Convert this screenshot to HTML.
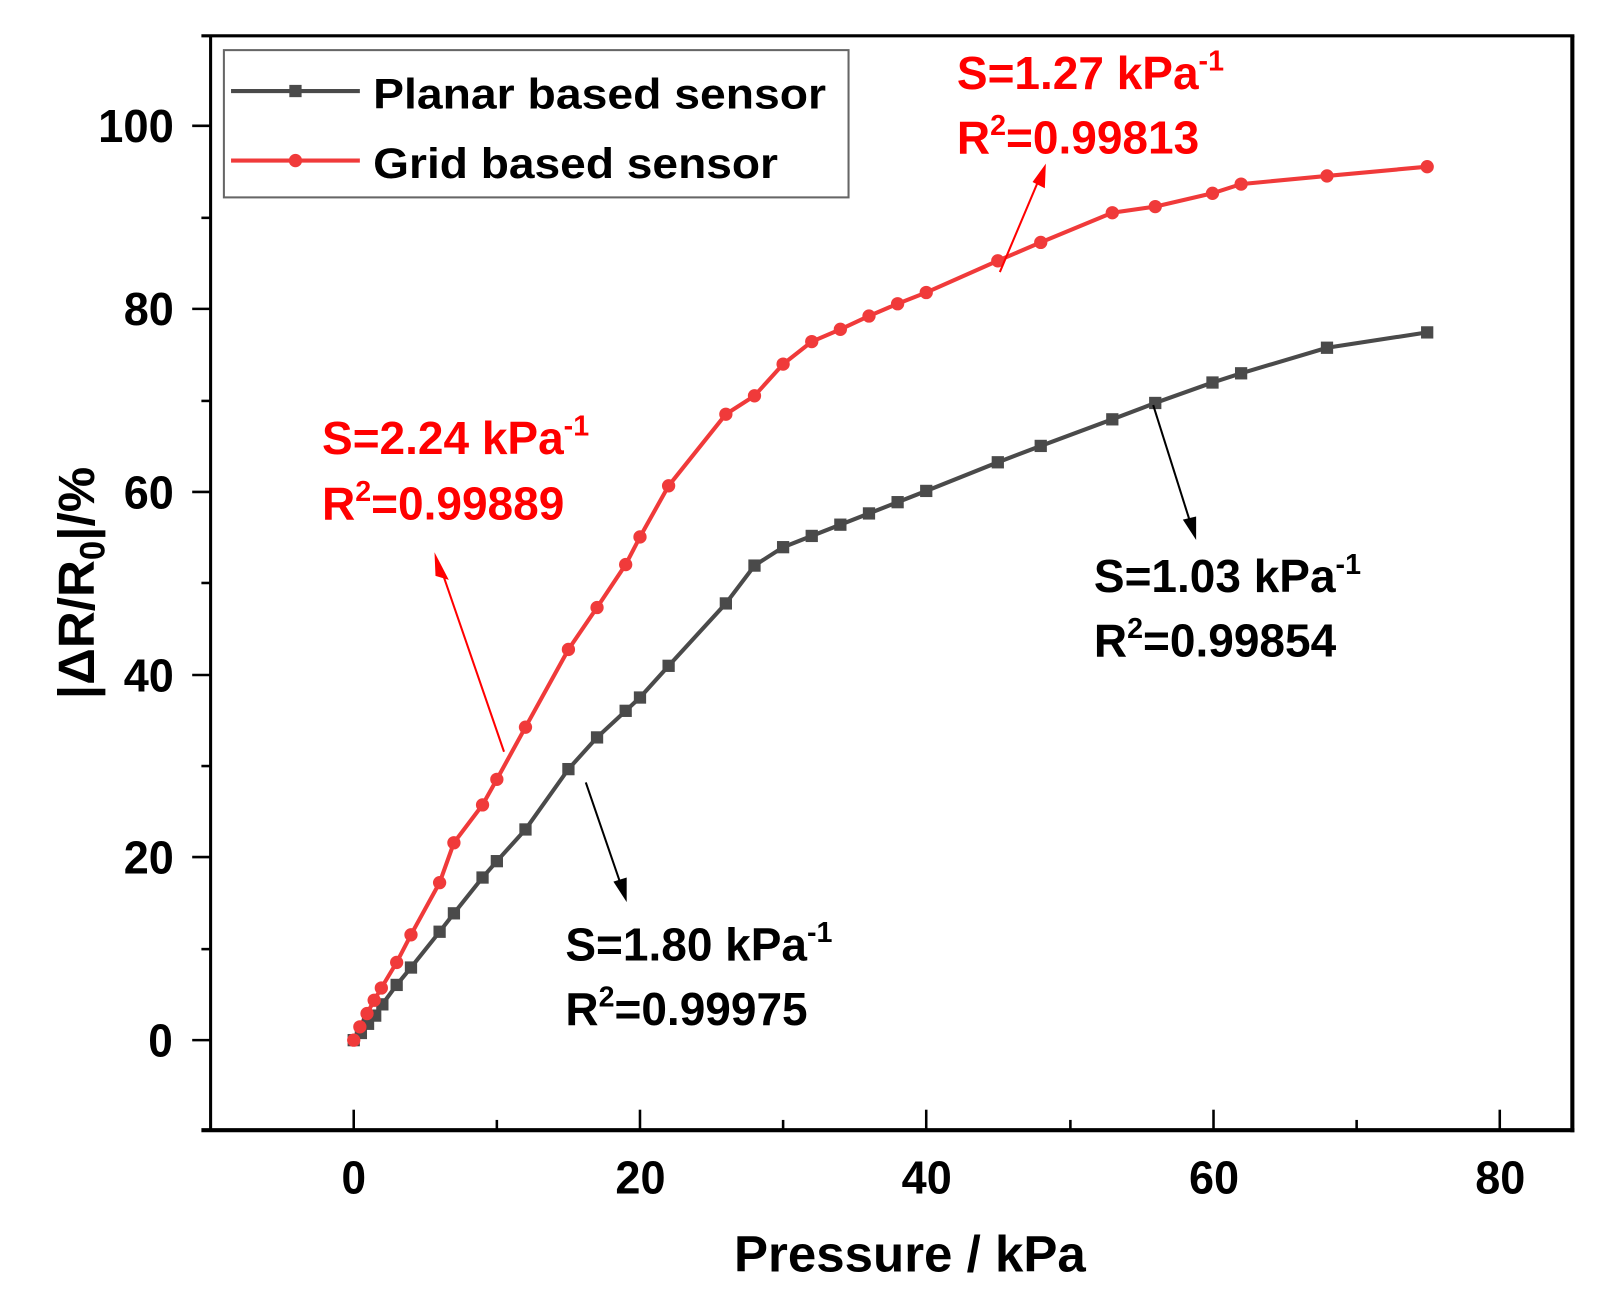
<!DOCTYPE html>
<html><head><meta charset="utf-8"><style>
html,body{margin:0;padding:0;background:#fff;}
svg{display:block;}
text{font-family:"Liberation Sans",Arial,sans-serif;font-weight:bold;}
</style></head><body>
<svg width="1602" height="1303" viewBox="0 0 1567 1274" preserveAspectRatio="none" xmlns="http://www.w3.org/2000/svg">
<g stroke="#000" fill="none">
<line x1="197" y1="35" x2="1540" y2="35" stroke-width="3"/>
<line x1="197" y1="1105" x2="1540" y2="1105" stroke-width="4"/>
<line x1="206" y1="35" x2="206" y2="1105" stroke-width="3"/>
<line x1="1538" y1="35" x2="1538" y2="1107" stroke-width="4"/>
<g stroke-width="2.5">
<line x1="346" y1="1105" x2="346" y2="1085"/><line x1="626" y1="1105" x2="626" y2="1085"/><line x1="906" y1="1105" x2="906" y2="1085"/><line x1="1187" y1="1105" x2="1187" y2="1085"/><line x1="1467" y1="1105" x2="1467" y2="1085"/>
<line x1="486" y1="1105" x2="486" y2="1095"/><line x1="766" y1="1105" x2="766" y2="1095"/><line x1="1047" y1="1105" x2="1047" y2="1095"/><line x1="1327" y1="1105" x2="1327" y2="1095"/>
<line x1="188" y1="1017" x2="206" y2="1017"/><line x1="188" y1="838" x2="206" y2="838"/><line x1="188" y1="660" x2="206" y2="660"/><line x1="188" y1="481" x2="206" y2="481"/><line x1="188" y1="302" x2="206" y2="302"/><line x1="188" y1="123" x2="206" y2="123"/>
<line x1="197" y1="928" x2="206" y2="928"/><line x1="197" y1="749" x2="206" y2="749"/><line x1="197" y1="570" x2="206" y2="570"/><line x1="197" y1="392" x2="206" y2="392"/><line x1="197" y1="213" x2="206" y2="213"/>
</g></g>
<g font-size="45" fill="#000">
<text x="145" y="1033" textLength="24" lengthAdjust="spacingAndGlyphs">0</text>
<text x="121" y="854" textLength="49" lengthAdjust="spacingAndGlyphs">20</text>
<text x="121" y="676" textLength="49" lengthAdjust="spacingAndGlyphs">40</text>
<text x="121" y="497" textLength="49" lengthAdjust="spacingAndGlyphs">60</text>
<text x="121" y="318" textLength="49" lengthAdjust="spacingAndGlyphs">80</text>
<text x="96" y="139" textLength="74" lengthAdjust="spacingAndGlyphs">100</text>
</g>
<g font-size="45" fill="#000">
<text x="334" y="1167" textLength="24" lengthAdjust="spacingAndGlyphs">0</text>
<text x="602" y="1167" textLength="49" lengthAdjust="spacingAndGlyphs">20</text>
<text x="882" y="1167" textLength="49" lengthAdjust="spacingAndGlyphs">40</text>
<text x="1163" y="1167" textLength="49" lengthAdjust="spacingAndGlyphs">60</text>
<text x="1443" y="1167" textLength="49" lengthAdjust="spacingAndGlyphs">80</text>
</g>
<text x="718" y="1243" font-size="50" textLength="344" lengthAdjust="spacingAndGlyphs">Pressure / kPa</text>
<text transform="translate(92,570) rotate(-90)" font-size="50" text-anchor="middle">|ΔR/R<tspan font-size="34" dy="10">0</tspan><tspan dy="-10">|/%</tspan></text>
<polyline fill="none" stroke="#4a4a4a" stroke-width="4" points="346,1017 353,1010 360,1001 367,993 374,982 388,963 402,946 430,911 444,893 472,858 486,842 514,811 556,752 584,721 612,695 626,682 654,651 710,590 738,553 766,535 794,524 822,513 850,502 878,491 906,480 976,452 1018,436 1088,410 1130,394 1186,374 1214,365 1298,340 1396,325"/>
<polyline fill="none" stroke="#f03a3a" stroke-width="4" points="346,1017 352,1004 359,991 366,978 373,966 388,941 402,914 430,863 444,824 472,787 486,762 514,711 556,635 584,594 612,552 626,525 654,475 710,405 738,387 766,356 794,334 822,322 850,309 878,297 906,286 976,255 1018,237 1088,208 1130,202 1186,189 1214,180 1298,172 1396,163"/>
<g fill="#4a4a4a">
<rect x="340" y="1011" width="12" height="12"/><rect x="347" y="1004" width="12" height="12"/><rect x="354" y="995" width="12" height="12"/><rect x="361" y="987" width="12" height="12"/><rect x="368" y="976" width="12" height="12"/><rect x="382" y="957" width="12" height="12"/><rect x="396" y="940" width="12" height="12"/><rect x="424" y="905" width="12" height="12"/><rect x="438" y="887" width="12" height="12"/><rect x="466" y="852" width="12" height="12"/><rect x="480" y="836" width="12" height="12"/><rect x="508" y="805" width="12" height="12"/><rect x="550" y="746" width="12" height="12"/><rect x="578" y="715" width="12" height="12"/><rect x="606" y="689" width="12" height="12"/><rect x="620" y="676" width="12" height="12"/><rect x="648" y="645" width="12" height="12"/><rect x="704" y="584" width="12" height="12"/><rect x="732" y="547" width="12" height="12"/><rect x="760" y="529" width="12" height="12"/><rect x="788" y="518" width="12" height="12"/><rect x="816" y="507" width="12" height="12"/><rect x="844" y="496" width="12" height="12"/><rect x="872" y="485" width="12" height="12"/><rect x="900" y="474" width="12" height="12"/><rect x="970" y="446" width="12" height="12"/><rect x="1012" y="430" width="12" height="12"/><rect x="1082" y="404" width="12" height="12"/><rect x="1124" y="388" width="12" height="12"/><rect x="1180" y="368" width="12" height="12"/><rect x="1208" y="359" width="12" height="12"/><rect x="1292" y="334" width="12" height="12"/><rect x="1390" y="319" width="12" height="12"/>
</g>
<g fill="#f03a3a">
<circle cx="346" cy="1017" r="6.5"/><circle cx="352" cy="1004" r="6.5"/><circle cx="359" cy="991" r="6.5"/><circle cx="366" cy="978" r="6.5"/><circle cx="373" cy="966" r="6.5"/><circle cx="388" cy="941" r="6.5"/><circle cx="402" cy="914" r="6.5"/><circle cx="430" cy="863" r="6.5"/><circle cx="444" cy="824" r="6.5"/><circle cx="472" cy="787" r="6.5"/><circle cx="486" cy="762" r="6.5"/><circle cx="514" cy="711" r="6.5"/><circle cx="556" cy="635" r="6.5"/><circle cx="584" cy="594" r="6.5"/><circle cx="612" cy="552" r="6.5"/><circle cx="626" cy="525" r="6.5"/><circle cx="654" cy="475" r="6.5"/><circle cx="710" cy="405" r="6.5"/><circle cx="738" cy="387" r="6.5"/><circle cx="766" cy="356" r="6.5"/><circle cx="794" cy="334" r="6.5"/><circle cx="822" cy="322" r="6.5"/><circle cx="850" cy="309" r="6.5"/><circle cx="878" cy="297" r="6.5"/><circle cx="906" cy="286" r="6.5"/><circle cx="976" cy="255" r="6.5"/><circle cx="1018" cy="237" r="6.5"/><circle cx="1088" cy="208" r="6.5"/><circle cx="1130" cy="202" r="6.5"/><circle cx="1186" cy="189" r="6.5"/><circle cx="1214" cy="180" r="6.5"/><circle cx="1298" cy="172" r="6.5"/><circle cx="1396" cy="163" r="6.5"/>
</g>
<rect x="219" y="49" width="611" height="144" fill="#fff" stroke="#666" stroke-width="2"/>
<line x1="226" y1="89" x2="352" y2="89" stroke="#4a4a4a" stroke-width="4"/>
<rect x="283" y="83" width="12" height="12" fill="#4a4a4a"/>
<line x1="226" y1="157" x2="352" y2="157" stroke="#f03a3a" stroke-width="4"/>
<circle cx="289" cy="157" r="6.5" fill="#f03a3a"/>
<text x="365" y="106" font-size="42" textLength="443" lengthAdjust="spacingAndGlyphs">Planar based sensor</text>
<text x="365" y="174" font-size="42" textLength="396" lengthAdjust="spacingAndGlyphs">Grid based sensor</text>
<g fill="#f00" font-size="45">
<text x="315" y="444">S=2.24 kPa<tspan font-size="28" dy="-18">-1</tspan></text>
<text x="315" y="508">R<tspan font-size="28" dy="-18">2</tspan><tspan dy="18">=0.99889</tspan></text>
<text x="936" y="87">S=1.27 kPa<tspan font-size="28" dy="-18">-1</tspan></text>
<text x="936" y="150">R<tspan font-size="28" dy="-18">2</tspan><tspan dy="18">=0.99813</tspan></text>
</g>
<g fill="#000" font-size="45">
<text x="1070" y="579">S=1.03 kPa<tspan font-size="28" dy="-18">-1</tspan></text>
<text x="1070" y="642">R<tspan font-size="28" dy="-18">2</tspan><tspan dy="18">=0.99854</tspan></text>
<text x="553" y="939">S=1.80 kPa<tspan font-size="28" dy="-18">-1</tspan></text>
<text x="553" y="1002">R<tspan font-size="28" dy="-18">2</tspan><tspan dy="18">=0.99975</tspan></text>
</g>
<g stroke-width="2">
<line x1="493" y1="735" x2="432" y2="558" stroke="#f00"/>
<polygon points="425,540 439,567 426,563" fill="#f00"/>
<line x1="978" y1="266" x2="1016" y2="176" stroke="#f00"/>
<polygon points="1023,160 1022,184 1010,178" fill="#f00"/>
<line x1="1128" y1="396" x2="1164" y2="510" stroke="#000"/>
<polygon points="1170,528 1157,508 1170,505" fill="#000"/>
<line x1="573" y1="765" x2="607" y2="864" stroke="#000"/>
<polygon points="613,882 600,862 613,858" fill="#000"/>
</g>
</svg>
</body></html>
